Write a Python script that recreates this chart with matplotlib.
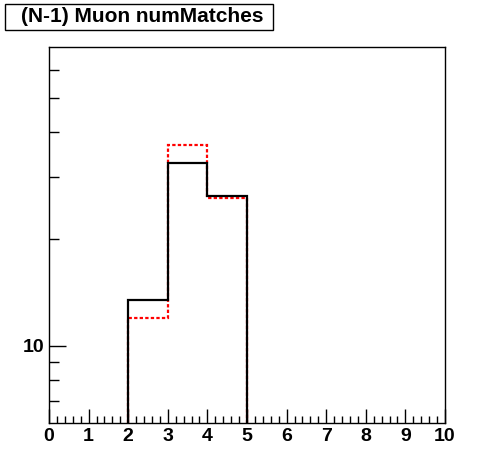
import numpy as np
import matplotlib
matplotlib.use("Agg")
import matplotlib.pyplot as plt
from matplotlib.patches import Rectangle
from matplotlib.ticker import FixedLocator, NullFormatter, FixedFormatter, MultipleLocator

plt.rcParams['font.family'] = ['Liberation Sans', 'DejaVu Sans']

title = "(N-1) Muon numMatches"
edges = np.arange(0, 11, 1)
black_vals = np.array([0, 0, 13.5, 32.8, 26.4, 0, 0, 0, 0, 0])
red_vals = np.array([0, 0, 12.0, 36.9, 26.1, 0, 0, 0, 0, 0])
ymin, ymax = 6.06, 69.7
x_ticks = list(range(0, 11))
y_major = [10]
y_minor = [7, 8, 9, 20, 30, 40, 50, 60]

fig = plt.figure(figsize=(4.96, 4.72), dpi=100)
ax = fig.add_axes([49/496, 1-423/472, (445-49)/496, (423-47)/472])
ax.set_yscale('log')

def clipz(v):
    return np.where(v > 0, v, ymin * 0.3)

ax.stairs(clipz(red_vals), edges, baseline=None, color='red', lw=1.6,
          linestyle=(0, (1.5, 1.0)), zorder=2)
ax.stairs(clipz(black_vals), edges, baseline=None, color='black', lw=1.6, zorder=3)

ax.set_xlim(0, 10)
ax.set_ylim(ymin, ymax)

ax.xaxis.set_major_locator(FixedLocator(x_ticks))
ax.xaxis.set_minor_locator(MultipleLocator(0.2))
ax.yaxis.set_major_locator(FixedLocator(y_major))
ax.yaxis.set_major_formatter(FixedFormatter([str(v) for v in y_major]))
ax.yaxis.set_minor_locator(FixedLocator(y_minor))
ax.yaxis.set_minor_formatter(NullFormatter())

ax.tick_params(axis='x', which='major', direction='in', length=10, width=1, pad=3.5,
               labelsize=14)
ax.tick_params(axis='x', which='minor', direction='in', length=5, width=1)
ax.tick_params(axis='y', which='major', direction='in', length=12, width=1, pad=3.5,
               labelsize=14)
ax.tick_params(axis='y', which='minor', direction='in', length=7, width=1)
for lab in ax.get_xticklabels() + ax.get_yticklabels():
    lab.set_fontweight('bold')
for s in ax.spines.values():
    s.set_linewidth(1)

fig.patches.append(Rectangle((5/496, 1-30/472), (273-5)/496, 26/472,
                             transform=fig.transFigure, facecolor='white',
                             edgecolor='black', lw=1))
fig.text(142/496, 1-17/472, title, ha='center', va='center', fontsize=15,
         fontweight='bold')

fig.savefig('out.png', dpi=100)
